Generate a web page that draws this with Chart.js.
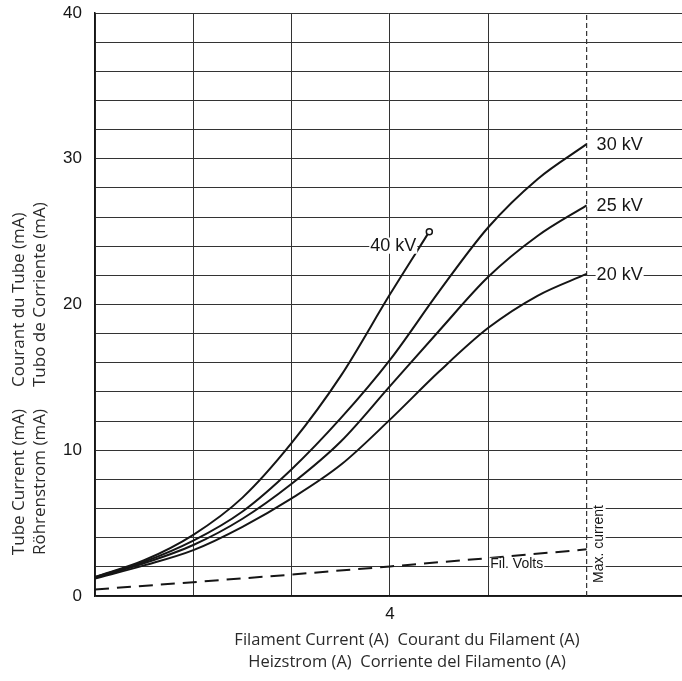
<!DOCTYPE html>
<html><head><meta charset="utf-8">
<style>html,body{margin:0;padding:0;background:#fff;}canvas{display:block;}</style>
<script src="https://cdn.jsdelivr.net/npm/chart.js@4.4.1/dist/chart.umd.min.js"></script>
</head><body>
<canvas id="c" width="682" height="681"></canvas>
<script>
// ---- data ----
const currents = [1, 1.5, 2, 2.5, 3, 3.5, 4, 4.5, 5, 5.5, 6];
const tube20kV = [1.2, 2.1, 3.15, 4.75, 6.7, 9.0, 12.1, 15.4, 18.4, 20.6, 22.1];
const tube25kV = [1.25, 2.25, 3.5, 5.3, 7.7, 10.6, 14.4, 18.2, 21.9, 24.7, 26.8];
const tube30kV = [1.3, 2.35, 3.8, 5.8, 8.7, 12.2, 16.2, 20.9, 25.3, 28.6, 31.0];
const currents40kV = [1, 1.5, 2, 2.5, 3, 3.5, 4, 4.4];
const tube40kV = [1.3, 2.45, 4.2, 6.75, 10.5, 15.1, 20.7, 25.0];
const filCurrents = [1, 2, 3, 4, 5, 6];
const filVolts = [0.45, 0.95, 1.47, 2.03, 2.6, 3.2];
const maxCurrent = 6;
const xRange = [1, 6.97];
const xTickLabels = {4: '4'};
const yTickLabels = [0, 10, 20, 30, 40];
const seriesNames = ['20 kV', '25 kV', '30 kV', '40 kV'];
const xTitleLines = [['Filament Current (A)', 'Courant du Filament (A)'], ['Heizstrom (A)', 'Corriente del Filamento (A)']];
const yTitleLines = [['Tube Current (mA)', 'Courant du Tube (mA)'], ['Röhrenstrom (mA)', 'Tubo de Corriente (mA)']];

const pts = (xs, ys) => xs.map((x, i) => ({x: x, y: ys[i]}));
const INK = '#151515';
const TITLE_FONT = '16.5px "Open Sans"';
const YTITLE_FONT = '17px "Open Sans"';

function curve(name, xs, ys, extra) {
  return Object.assign({
    label: name, data: pts(xs, ys), borderColor: INK, borderWidth: 2,
    pointRadius: 0, cubicInterpolationMode: 'monotone', fill: false
  }, extra || {});
}

const labelPlugin = {
  id: 'labels',
  afterDatasetsDraw(chart) {
    const ctx = chart.ctx, xs = chart.scales.x, ys = chart.scales.y, ca = chart.chartArea;
    function boxText(text, x, y, align, font) {
      ctx.save();
      ctx.font = font;
      const w = ctx.measureText(text).width;
      const h = parseFloat(font) * 0.9;
      const left = align === 'left' ? x : x - w;
      ctx.fillStyle = '#fff';
      ctx.fillRect(left - 1, y - h / 2, w + 2, h);
      ctx.fillStyle = INK;
      ctx.textAlign = align; ctx.textBaseline = 'middle';
      ctx.fillText(text, x, y);
      ctx.restore();
    }
    const xm = xs.getPixelForValue(maxCurrent);
    const ends = [tube20kV, tube25kV, tube30kV];
    ends.forEach((arr, i) => boxText(seriesNames[i], xm + 10, ys.getPixelForValue(arr[arr.length - 1]) + 1, 'left', '18px "Liberation Sans"'));
    const lx = xs.getPixelForValue(currents40kV[currents40kV.length - 1]);
    const ly = ys.getPixelForValue(tube40kV[tube40kV.length - 1]);
    boxText(seriesNames[3], lx - 13, ly + 14, 'right', '18px "Liberation Sans"');
    boxText('Fil. Volts', xs.getPixelForValue(5) + 2, ys.getPixelForValue(filVolts[4]) + 6, 'left', '14px "Liberation Sans"');
    // Max. current rotated
    ctx.save();
    ctx.font = '14px "Liberation Sans"';
    const t = 'Max. current';
    const w = ctx.measureText(t).width;
    ctx.translate(xm + 13, ca.bottom - 52);
    ctx.rotate(-Math.PI / 2);
    ctx.fillStyle = '#fff';
    ctx.fillRect(-w / 2 - 1, -7, w + 2, 13);
    ctx.fillStyle = INK; ctx.textAlign = 'center'; ctx.textBaseline = 'middle';
    ctx.fillText(t, 0, 0);
    ctx.restore();
  },
  afterDraw(chart) {
    const ctx = chart.ctx, ca = chart.chartArea;
    ctx.save();
    ctx.fillStyle = '#2a2a2a'; ctx.textBaseline = 'middle';
    // x title: two centered lines
    ctx.font = TITLE_FONT;
    const cx = 407;
    xTitleLines.forEach((ln, i) => {
      ctx.textAlign = 'center';
      ctx.fillText(ln.join('  '), cx, ca.bottom + 44 + i * 22);
    });
    // y title: rotated, two columns
    ctx.font = YTITLE_FONT;
    const split = ca.bottom - 197;
    yTitleLines.forEach((ln, i) => {
      ctx.save();
      ctx.translate(19 + i * 21, split);
      ctx.rotate(-Math.PI / 2);
      ctx.textAlign = 'right'; ctx.fillText(ln[0], -10, 0);
      ctx.textAlign = 'left'; ctx.fillText(ln[1], 12, 0);
      ctx.restore();
    });
    ctx.restore();
  }
};

new Chart(document.getElementById('c'), {
  type: 'line',
  data: {
    datasets: [
      curve(seriesNames[3], currents40kV, tube40kV, {
        pointRadius: (c) => c.dataIndex === tube40kV.length - 1 ? 3 : 0,
        pointBackgroundColor: '#fff', pointBorderColor: INK, pointBorderWidth: 1.5
      }),
      curve(seriesNames[2], currents, tube30kV),
      curve(seriesNames[1], currents, tube25kV),
      curve(seriesNames[0], currents, tube20kV),
      curve('Fil. Volts', filCurrents, filVolts, {borderDash: [14, 8], cubicInterpolationMode: 'default', tension: 0}),
      {label: 'Max. current', data: [{x: maxCurrent, y: 0}, {x: maxCurrent, y: 40}],
       borderColor: '#333', borderWidth: 1.2, borderDash: [5, 3], pointRadius: 0, tension: 0}
    ]
  },
  options: {
    responsive: false, animation: false,
    layout: {autoPadding: false, padding: {top: 13, left: 0, right: 0, bottom: 0}},
    plugins: {legend: {display: false}, tooltip: {enabled: false}},
    scales: {
      x: {
        type: 'linear', min: xRange[0], max: xRange[1],
        afterFit: (s) => { s.height = 85; s.paddingLeft = 0; s.paddingRight = 0; },
        ticks: {stepSize: 1, includeBounds: false, autoSkip: false, maxRotation: 0, padding: 8, color: INK,
          font: {family: 'Liberation Sans', size: 17},
          callback: (v) => xTickLabels[v] || ''},
        grid: {drawTicks: false, color: (c) => (c.tick && c.tick.value === maxCurrent) ? 'rgba(0,0,0,0)' : '#333', lineWidth: 1},
        border: {color: INK, width: 1.5}
      },
      y: {
        min: 0, max: 40,
        afterFit: (s) => { s.width = 95; s.paddingTop = 0; s.paddingBottom = 0; },
        ticks: {stepSize: 2, autoSkip: false, padding: 13, color: INK,
          font: {family: 'Liberation Sans', size: 17},
          callback: (v) => yTickLabels.includes(v) ? String(v) : ''},
        grid: {drawTicks: false, color: '#333', lineWidth: 1},
        border: {color: INK, width: 1.5}
      }
    }
  },
  plugins: [labelPlugin]
});
</script>
</body></html>
